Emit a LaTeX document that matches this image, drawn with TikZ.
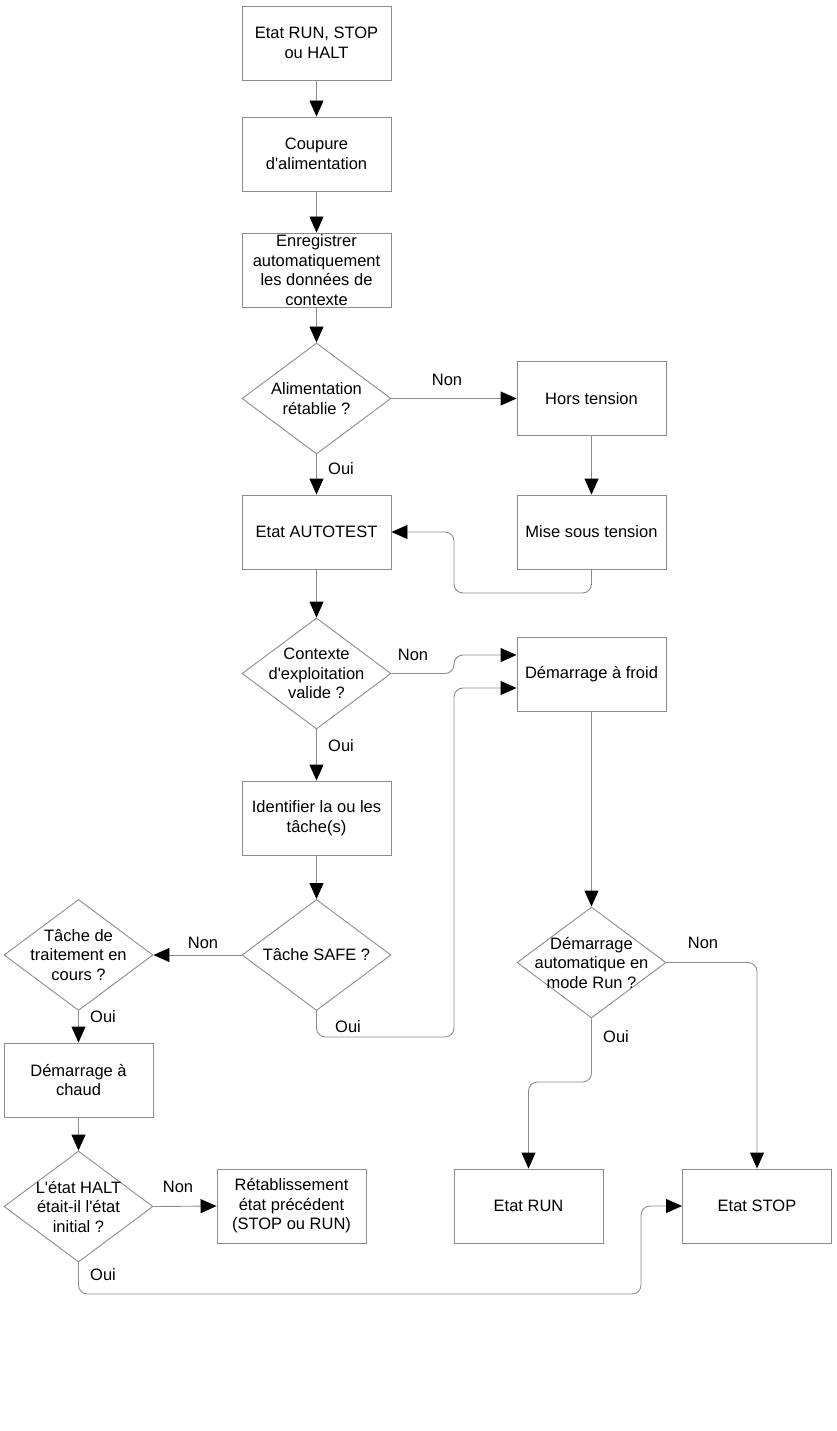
\documentclass[tikz,border=0pt]{standalone}
\usepackage{fontspec}
\setmainfont{Liberation Sans}[Ligatures=TeXOff]
\usetikzlibrary{shapes.geometric,arrows.meta,calc}
\definecolor{lc}{HTML}{8C8C8C}
\tikzset{
  box/.style={draw=lc,line width=0.9pt,minimum width=149pt,minimum height=74pt,inner sep=0pt,align=center,font=\fontsize{16.5}{19.5}\selectfont},
  dia/.style={draw=lc,line width=0.9pt,shape=diamond,minimum width=149pt,minimum height=111pt,inner sep=0pt,aspect=1.34},
  diatext/.style={align=center,font=\fontsize{16.5}{19.5}\selectfont,inner sep=0pt},
  lab/.style={font=\fontsize{16.5}{19.5}\selectfont,inner sep=0pt},
  conn/.style={draw=lc,line width=0.9pt,rounded corners=9pt,-{Triangle[length=16pt,width=14pt,color=black,fill=black]}}
}
\begin{document}
\begin{tikzpicture}[x=1pt,y=-1pt]
\useasboundingbox (0,0) rectangle (836,1431);
\node[box] (b1) at (316.5,43) {Etat RUN, STOP\\ou HALT};
\node[box] (b2) at (316.5,154) {Coupure\\d'alimentation};
\node[box] (b3) at (316.5,270) {Enregistrer\\automatiquement\\les données de\\contexte};
\node[dia] (d1) at (316.5,398.5) {};
\node[diatext] (d1t) at (d1) {Alimentation\\rétablie ?};
\node[box] (hors) at (591.5,398.5) {Hors tension};
\node[box] (mise) at (591.5,532) {Mise sous tension};
\node[box] (auto) at (316.5,532) {Etat AUTOTEST};
\node[dia] (d2) at (316.5,673.5) {};
\node[diatext] (d2t) at (d2) {Contexte\\d'exploitation\\valide ?};
\node[box] (froid) at (591.5,674) {Démarrage à froid};
\node[box] (ident) at (316.5,818) {Identifier la ou les\\tâche(s)};
\node[dia] (d3) at (316.5,955) {};
\node[diatext] (d3t) at (d3) {Tâche SAFE ?};
\node[dia] (d4) at (78.5,955) {};
\node[diatext] (d4t) at (d4) {Tâche de\\traitement en\\cours ?};
\node[box] (chaud) at (78.5,1080) {Démarrage à\\chaud};
\node[dia] (d5) at (78.5,1206.5) {};
\node[diatext] (d5t) at (d5) {L'état HALT\\était-il l'état\\initial ?};
\node[box] (retab) at (291.5,1206) {Rétablissement\\état précédent\\(STOP ou RUN)};
\node[dia] (d6) at (591.5,962.5) {};
\node[diatext] (d6t) at (d6) {Démarrage\\automatique en\\mode Run ?};
\node[box] (run) at (528.5,1206) {Etat RUN};
\node[box] (stop) at (757,1206) {Etat STOP};

\draw[conn] (b1) -- (b2);
\draw[conn] (b2) -- (b3);
\draw[conn] (b3) -- (d1);
\draw[conn] (d1.east) -- (hors.west);
\draw[conn] (d1.south) -- (auto.north);
\draw[conn] (hors) -- (mise);
\draw[conn] (mise.south) |- (454,593) |- (auto.east);
\draw[conn] (auto) -- (d2.north);
\draw[conn] (d2.east) -- (454,673.5) |- ($(froid.west)+(0,-19)$);
\draw[conn] (d2.south) -- (ident.north);
\draw[conn] (ident) -- (d3.north);
\draw[conn] (d3.west) -- (d4.east);
\draw[conn] (d3.south) |- (454,1037) |- ($(froid.west)+(0,14)$);
\draw[conn] (d4.south) -- (chaud.north);
\draw[conn] (chaud) -- (d5.north);
\draw[conn] (d5.east) -- (retab.west);
\draw[conn] (d5.south) |- (641,1294) |- (stop.west);
\draw[conn] (froid) -- (d6.north);
\draw[conn] (d6.south) |- (528.5,1082) -- (run.north);
\draw[conn] (d6.east) -| (stop.north);

\node[lab] (l1) at (447,380) {Non};
\node[lab] (l2) at (341,469) {Oui};
\node[lab] (l3) at (413,655) {Non};
\node[lab] (l4) at (341,746) {Oui};
\node[lab] (l5) at (203,943) {Non};
\node[lab] (l6) at (348,1027) {Oui};
\node[lab] (l7) at (103,1017) {Oui};
\node[lab] (l8) at (178,1187) {Non};
\node[lab] (l9) at (103,1275) {Oui};
\node[lab] (l10) at (616,1037) {Oui};
\node[lab] (l11) at (703,943) {Non};
\end{tikzpicture}
\end{document}
